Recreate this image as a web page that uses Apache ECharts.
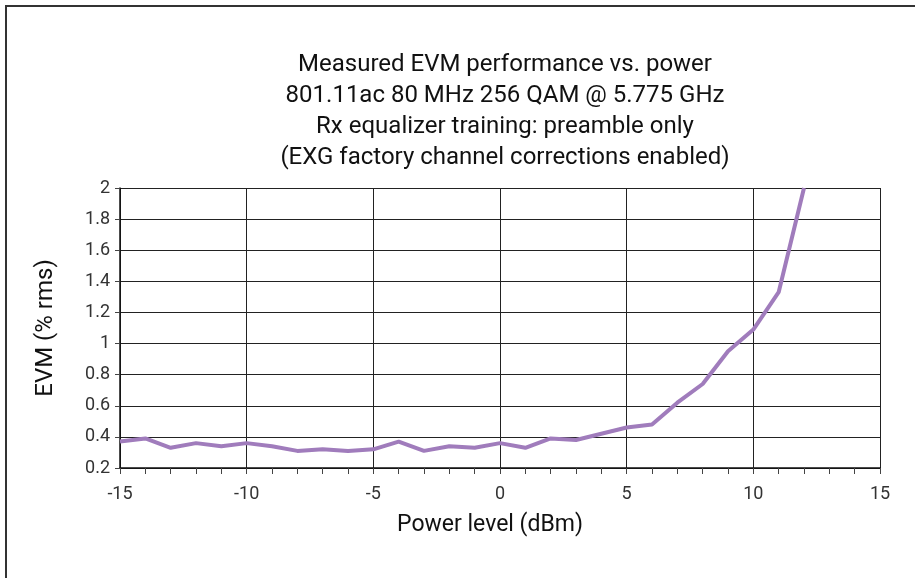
<!DOCTYPE html>
<html>
<head>
    <meta charset="utf-8">
    <script src="https://cdn.jsdelivr.net/npm/echarts@6/dist/echarts.min.js"></script>
    <style type="text/css">
        body { margin: 0; background: #fff; }
        #main { width: 915px; height: 578px; }
    </style>
</head>
<body>
    <div id="main"></div>
    <script>
        // power level (dBm) and measured EVM (% rms)
        const power = [-15, -14, -13, -12, -11, -10, -9, -8, -7, -6, -5, -4, -3, -2, -1, 0,
            1, 2, 3, 4, 5, 6, 7, 8, 9, 10, 11, 12];
        const evm = [0.37, 0.39, 0.33, 0.36, 0.34, 0.36, 0.34, 0.31, 0.32, 0.31, 0.32, 0.37, 0.31, 0.34, 0.33, 0.36,
            0.33, 0.39, 0.38, 0.42, 0.46, 0.48, 0.62, 0.74, 0.95, 1.09, 1.33, 2.0];
        const titleLines = [
            'Measured EVM performance vs. power',
            '801.11ac 80 MHz 256 QAM @ 5.775 GHz',
            'Rx equalizer training: preamble only',
            '(EXG factory channel corrections enabled)'
        ];

        const font = 'Roboto';
        const chart = echarts.init(document.getElementById('main'));

        chart.setOption({
            animation: false,
            backgroundColor: '#fff',
            title: {
                text: titleLines.join('\n'),
                left: 500,
                top: 44,
                textAlign: 'center',
                textStyle: { fontFamily: font, fontSize: 24, fontWeight: 'normal', color: '#111', lineHeight: 31 }
            },
            grid: { left: 120, right: 35, top: 188, bottom: 110 },
            xAxis: {
                type: 'value',
                min: -15, max: 15, interval: 5,
                name: 'Power level (dBm)',
                nameLocation: 'middle',
                nameGap: 46,
                nameTextStyle: { fontFamily: font, fontSize: 23, color: '#111', padding: [0, 20, 0, 0] },
                axisLine: { onZero: false, lineStyle: { color: '#111', width: 1.5 } },
                axisTick: { length: 6, lineStyle: { color: '#444' } },
                minorTick: { show: true, splitNumber: 5, length: 6, lineStyle: { color: '#444' } },
                axisLabel: { fontFamily: font, fontSize: 18, color: '#333', margin: 17 },
                splitLine: { show: true, lineStyle: { color: '#222', width: 1 } }
            },
            yAxis: {
                type: 'value',
                min: 0.2, max: 2, interval: 0.2,
                name: 'EVM (% rms)',
                nameLocation: 'middle',
                nameGap: 62,
                nameTextStyle: { fontFamily: font, fontSize: 24, color: '#111' },
                axisLine: { show: true, onZero: false, lineStyle: { color: '#111', width: 1.5 } },
                axisTick: { show: true, length: 5, lineStyle: { color: '#444' } },
                axisLabel: { fontFamily: font, fontSize: 18, color: '#333', margin: 10 },
                splitLine: { show: true, lineStyle: { color: '#222', width: 1 } }
            },
            series: [{
                type: 'line',
                data: power.map((p, i) => [p, evm[i]]),
                showSymbol: false,
                clip: true,
                lineStyle: { color: '#a07cbc', width: 4 },
                itemStyle: { color: '#a07cbc' }
            }],
            graphic: [{
                type: 'rect',
                shape: { x: 6, y: 6, width: 1000, height: 1000 },
                style: { fill: 'none', stroke: '#333', lineWidth: 2 },
                silent: true
            }]
        });
    </script>
</body>
</html>
